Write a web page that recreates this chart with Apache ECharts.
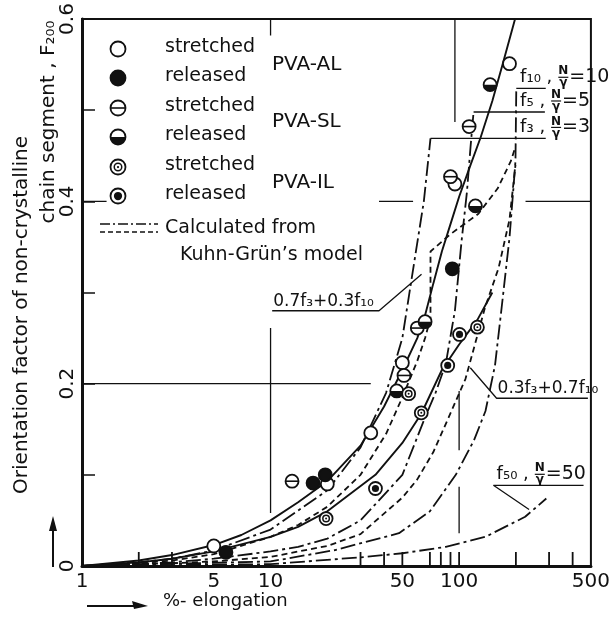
<!DOCTYPE html>
<html><head><meta charset="utf-8">
<script src="https://cdn.jsdelivr.net/npm/echarts@6/dist/echarts.min.js"></script>
<style>html,body{margin:0;padding:0;background:#fff}#c{width:613px;height:618px}</style>
</head><body><div id="c"></div>
<script>
// ---------------- data ----------------
const xTickLabels = [1, 5, 10, 50, 100, 500];
const xMinorTicks = [2, 3, 30, 40, 50, 70, 80, 90, 100, 200, 300, 400];
const yTickLabels = [0, 0.2, 0.4, 0.6];

// PVA-AL
const alStretchedX = [5, 20, 34, 50, 95, 185];
const alStretchedY = [0.022, 0.09, 0.146, 0.223, 0.419, 0.551];
const alReleasedX = [5.8, 16.8, 19.5, 92];
const alReleasedY = [0.015, 0.091, 0.1, 0.326];
// PVA-SL
const slStretchedX = [13, 51, 60, 90, 113];
const slStretchedY = [0.093, 0.209, 0.261, 0.427, 0.482];
const slReleasedX = [46.7, 66, 122, 146];
const slReleasedY = [0.192, 0.268, 0.395, 0.528];
// PVA-IL
const ilStretchedX = [19.7, 54, 63, 125];
const ilStretchedY = [0.052, 0.189, 0.168, 0.262];
const ilReleasedX = [36, 87, 100.5];
const ilReleasedY = [0.085, 0.22, 0.254];

// solid fitted curves
const fitALX = [1, 2, 3, 5, 7, 10, 14, 20, 30, 40, 50, 60, 66, 73, 81, 90, 100, 115, 130, 150, 170, 198];
const fitALY = [0, 0.006, 0.012, 0.023, 0.034, 0.05, 0.07, 0.093, 0.132, 0.175, 0.215, 0.25, 0.275, 0.31, 0.345, 0.375, 0.405, 0.44, 0.47, 0.51, 0.55, 0.6];
const fitILX = [1, 2, 3, 5, 10, 14, 20, 36, 50, 63, 81, 100, 125, 150];
const fitILY = [0, 0.004, 0.008, 0.016, 0.032, 0.043, 0.06, 0.1, 0.135, 0.167, 0.215, 0.243, 0.27, 0.3];

// Kuhn-Grun model curves (dash-dot)
const f3X = [1, 2, 3, 5, 10, 20, 30, 41, 50, 59, 65, 70.5];
const f3Y = [0, 0.004, 0.008, 0.017, 0.04, 0.083, 0.13, 0.19, 0.25, 0.345, 0.4, 0.469];
const f5X = [1, 2, 3, 5, 10, 14, 20, 30, 50, 66, 75, 85, 95, 103, 110, 115, 119.3];
const f5Y = [0, 0.002, 0.004, 0.008, 0.016, 0.021, 0.03, 0.05, 0.1, 0.163, 0.19, 0.222, 0.28, 0.356, 0.41, 0.46, 0.498];
const f10X = [1, 10, 22, 48, 70, 96, 120, 138, 155, 168, 185, 194, 199, 201];
const f10Y = [0, 0.005, 0.0175, 0.036, 0.06, 0.1, 0.138, 0.17, 0.22, 0.283, 0.36, 0.414, 0.444, 0.524];
const f50X = [1, 10, 32, 50, 85, 138, 224, 290];
const f50Y = [0, 0.002, 0.01, 0.014, 0.021, 0.032, 0.054, 0.074];
// mixtures (dashed)
const mixAX = [1, 2, 3, 5, 10, 14, 20, 30, 41, 50, 60, 66, 70.5, 70.5, 90, 126, 160, 188, 199];
const mixAY = [0, 0.003, 0.006, 0.013, 0.032, 0.045, 0.065, 0.1, 0.145, 0.185, 0.225, 0.25, 0.272, 0.345, 0.364, 0.386, 0.414, 0.444, 0.46];
const mixBX = [1, 3, 5, 10, 20, 30, 50, 60, 73, 88, 108, 137, 162, 185, 199];
const mixBY = [0, 0.003, 0.005, 0.01, 0.022, 0.035, 0.075, 0.095, 0.125, 0.163, 0.205, 0.283, 0.327, 0.38, 0.44];

// graph-paper grid fragments (data coordinates)
const gridSegments = [
  [[1, 0.2], [34, 0.2]],
  [[1, 0.4], [1.35, 0.4]],
  [[37.6, 0.4], [57, 0.4]],
  [[225, 0.4], [500, 0.4]],
  [[10, 0.261], [10, 0.058]],
  [[10, 0.6], [10, 0.582]],
  [[95, 0.6], [95, 0.487]],
  [[100, 0.192], [100, 0.127]],
  [[100, 0.087], [100, 0.036]]
];
// label leader lines (data coordinates)
const leaderLines = [
  [[70.5, 0.469], [288, 0.469]],
  [[119.3, 0.498], [285, 0.498]],
  [[201, 0.524], [288, 0.524]],
  [[10.2, 0.28], [37.6, 0.28], [63.2, 0.32]],
  [[114.6, 0.2175], [158, 0.184], [482, 0.184]],
  [[235, 0.062], [152, 0.0885], [457, 0.0885]]
];

// ---------------- chart ----------------
const BLACK = '#111';
const FONT = '"DejaVu Sans", sans-serif';
const DASH = [6, 4];
const DASHDOT = [15, 4, 3, 4];

function markerChildren(kind, cx, cy, r) {
  const kids = [{type: 'circle', shape: {cx, cy, r},
    style: {fill: kind === 'filled' ? BLACK : '#fff', stroke: BLACK, lineWidth: 1.8}}];
  if (kind === 'bar') kids.push({type: 'line', shape: {x1: cx - r, y1: cy, x2: cx + r, y2: cy}, style: {stroke: BLACK, lineWidth: 1.6}});
  if (kind === 'half') kids.push({type: 'sector', shape: {cx, cy, r0: 0, r: r, startAngle: 0, endAngle: Math.PI, clockwise: true}, style: {fill: BLACK}});
  if (kind === 'double') {
    kids.push({type: 'circle', shape: {cx, cy, r: r * 0.5}, style: {fill: '#fff', stroke: BLACK, lineWidth: 1.5}});
    kids.push({type: 'circle', shape: {cx, cy, r: r * 0.15}, style: {fill: BLACK}});
  }
  if (kind === 'dotted') kids.push({type: 'circle', shape: {cx, cy, r: r * 0.55}, style: {fill: BLACK}});
  return kids;
}

function markerSeries(name, xs, ys, kind) {
  return {
    type: 'custom', name, coordinateSystem: 'cartesian2d', z: 10, silent: true,
    data: xs.map((x, i) => [x, ys[i]]),
    renderItem: (params, api) => {
      const p = api.coord([api.value(0), api.value(1)]);
      return {type: 'group', children: markerChildren(kind, p[0], p[1], 6.5)};
    }
  };
}

function lineSeries(name, xs, ys, type, width) {
  return {
    type: 'line', name, data: xs.map((x, i) => [x, ys[i]]), symbol: 'none', showSymbol: false,
    lineStyle: {color: BLACK, width: width || 1.8, type: type}, silent: true, z: 5
  };
}

function segSeries(name, segs, width) {
  const data = [];
  segs.forEach((s, k) => { if (k) data.push(['-', '-']); s.forEach(p => data.push(p)); });
  return {type: 'line', name, data, symbol: 'none', connectNulls: false,
    lineStyle: {color: BLACK, width: width, type: 'solid'}, silent: true, z: 4};
}

const chart = echarts.init(document.getElementById('c'));
chart.setOption({
  animation: false,
  grid: {left: 82, right: 20, top: 19, bottom: 52, show: true, borderColor: BLACK, borderWidth: 2},
  xAxis: {
    type: 'log', logBase: 10, min: 1, max: 500,
    axisLine: {show: true, lineStyle: {color: BLACK, width: 3}},
    axisTick: {show: false},
    axisLabel: {customValues: xTickLabels, color: BLACK, fontFamily: FONT, fontSize: 20, margin: 6, formatter: v => String(v)},
    splitLine: {show: false}
  },
  yAxis: {
    type: 'value', min: 0, max: 0.6, interval: 0.1,
    axisLine: {show: true, lineStyle: {color: BLACK, width: 3}},
    axisTick: {show: true, inside: true, length: 13, lineStyle: {color: BLACK, width: 1.5}},
    axisLabel: {customValues: yTickLabels, rotate: 90, color: BLACK, fontFamily: FONT, fontSize: 20, margin: 4,
      formatter: v => (v === 0 ? '0' : v.toFixed(1))},
    splitLine: {show: false}
  },
  series: [
    segSeries('grid', gridSegments, 1.3),
    segSeries('leaders', leaderLines, 1.3),
    lineSeries('fitAL', fitALX, fitALY, 'solid', 1.9),
    lineSeries('fitIL', fitILX, fitILY, 'solid', 1.9),
    lineSeries('f3', f3X, f3Y, DASHDOT),
    lineSeries('f5', f5X, f5Y, DASHDOT),
    lineSeries('f10', f10X, f10Y, DASHDOT),
    lineSeries('f50', f50X, f50Y, DASHDOT),
    lineSeries('0.7f3+0.3f10', mixAX, mixAY, DASH),
    lineSeries('0.3f3+0.7f10', mixBX, mixBY, DASH),
    markerSeries('AL stretched', alStretchedX, alStretchedY, 'open'),
    markerSeries('AL released', alReleasedX, alReleasedY, 'filled'),
    markerSeries('SL stretched', slStretchedX, slStretchedY, 'bar'),
    markerSeries('SL released', slReleasedX, slReleasedY, 'half'),
    markerSeries('IL stretched', ilStretchedX, ilStretchedY, 'double'),
    markerSeries('IL released', ilReleasedX, ilReleasedY, 'dotted')
  ]
});

// ---------------- annotations ----------------
const px = (x, y) => chart.convertToPixel({gridIndex: 0}, [x, y]);
const ctx = document.createElement('canvas').getContext('2d');
function textW(t, size) { ctx.font = size + 'px ' + FONT; return ctx.measureText(t).width; }
function txt(t, x, y, size, opts) {
  return Object.assign({type: 'text', x, y, z: 20, silent: true,
    style: {text: t, fill: BLACK, font: size + 'px ' + FONT, textAlign: 'left', textVerticalAlign: 'middle'}}, opts || {});
}
const g = [];

// minor x ticks (inside), placed through the x scale
xMinorTicks.forEach(v => {
  const p = px(v, 0);
  g.push({type: 'line', shape: {x1: p[0], y1: p[1], x2: p[0], y2: p[1] - 14}, style: {stroke: BLACK, lineWidth: 1.8}});
});

// legend
const legendKinds = ['open', 'filled', 'bar', 'half', 'double', 'dotted'];
const legendWords = ['stretched', 'released', 'stretched', 'released', 'stretched', 'released'];
const legendY = [49, 78, 108, 137, 167, 196];
legendKinds.forEach((k, i) => {
  g.push({type: 'group', z: 20, silent: true, children: markerChildren(k, 118, legendY[i], 7.5)});
  g.push(txt(legendWords[i], 165, legendY[i] - 2, 19));
});
g.push(txt('PVA-AL', 272, 65, 20));
g.push(txt('PVA-SL', 272, 122, 20));
g.push(txt('PVA-IL', 272, 183, 20));
g.push({type: 'line', z: 20, shape: {x1: 100, y1: 224, x2: 158, y2: 224}, style: {stroke: BLACK, lineWidth: 1.5, lineDash: [10, 3, 2, 3]}});
g.push({type: 'line', z: 20, shape: {x1: 100, y1: 232, x2: 158, y2: 232}, style: {stroke: BLACK, lineWidth: 1.5, lineDash: [5, 3]}});
g.push(txt('Calculated from', 165, 228, 19));
g.push(txt('Kuhn-Grün\u2019s model', 180, 255, 19));

// curve labels f_n, N/gamma = n
const fLabels = [
  {head: 'f\u2081\u2080 ,', n: '10', at: [210.6, 0.524]},
  {head: 'f\u2085 ,', n: '5', at: [210.6, 0.498]},
  {head: 'f\u2083 ,', n: '3', at: [210.6, 0.469]},
  {head: 'f\u2085\u2080 ,', n: '50', at: [158, 0.0885]}
];
fLabels.forEach(L => {
  const p = px(L.at[0], L.at[1]);
  const x0 = p[0], u = p[1];
  g.push(txt(L.head, x0, u - 2, 18, {style: {text: L.head, fill: BLACK, font: '18px ' + FONT, textAlign: 'left', textVerticalAlign: 'bottom'}}));
  const fx = x0 + textW(L.head, 18) + 6;
  g.push(txt('N', fx + 5, u - 17, 12, {style: {text: 'N', fill: BLACK, font: 'bold 12px ' + FONT, textAlign: 'center', textVerticalAlign: 'middle'}}));
  g.push({type: 'line', z: 20, shape: {x1: fx, y1: u - 11, x2: fx + 10, y2: u - 11}, style: {stroke: BLACK, lineWidth: 1.2}});
  g.push(txt('\u03b3', fx + 5, u - 5, 12, {style: {text: '\u03b3', fill: BLACK, font: 'bold 12px ' + FONT, textAlign: 'center', textVerticalAlign: 'middle'}}));
  g.push(txt('=' + L.n, fx + 11, u - 11, 19));
});

// mixture labels
const mixLabels = [
  {t: '0.7f\u2083+0.3f\u2081\u2080', at: [10.2, 0.28]},
  {t: '0.3f\u2083+0.7f\u2081\u2080', at: [158, 0.184]}
];
mixLabels.forEach(L => {
  const p = px(L.at[0], L.at[1]);
  g.push(txt(L.t, p[0] + 1, p[1] - 1, 17, {style: {text: L.t, fill: BLACK, font: '17px ' + FONT, textAlign: 'left', textVerticalAlign: 'bottom'}}));
});

// axis titles
g.push(txt('Orientation factor of non-crystalline', 22, 315, 20,
  {rotation: Math.PI / 2, style: {text: 'Orientation factor of non-crystalline', fill: BLACK, font: '20px ' + FONT, textAlign: 'center', textVerticalAlign: 'middle'}}));
g.push(txt('chain segment , F\u2082\u2080\u2080', 49, 122, 20,
  {rotation: Math.PI / 2, style: {text: 'chain segment , F\u2082\u2080\u2080', fill: BLACK, font: '20px ' + FONT, textAlign: 'center', textVerticalAlign: 'middle'}}));
g.push(txt('%- elongation', 163, 601, 18));
// arrows
g.push({type: 'line', z: 20, shape: {x1: 87, y1: 606, x2: 140, y2: 606}, style: {stroke: BLACK, lineWidth: 2}});
g.push({type: 'polygon', z: 20, shape: {points: [[148, 606], [132, 601], [134, 609]]}, style: {fill: BLACK}});
g.push({type: 'line', z: 20, shape: {x1: 53, y1: 567, x2: 53, y2: 525}, style: {stroke: BLACK, lineWidth: 2}});
g.push({type: 'polygon', z: 20, shape: {points: [[53, 516], [49, 531], [57, 531]]}, style: {fill: BLACK}});

chart.setOption({graphic: {elements: g}});
</script>
</body></html>
